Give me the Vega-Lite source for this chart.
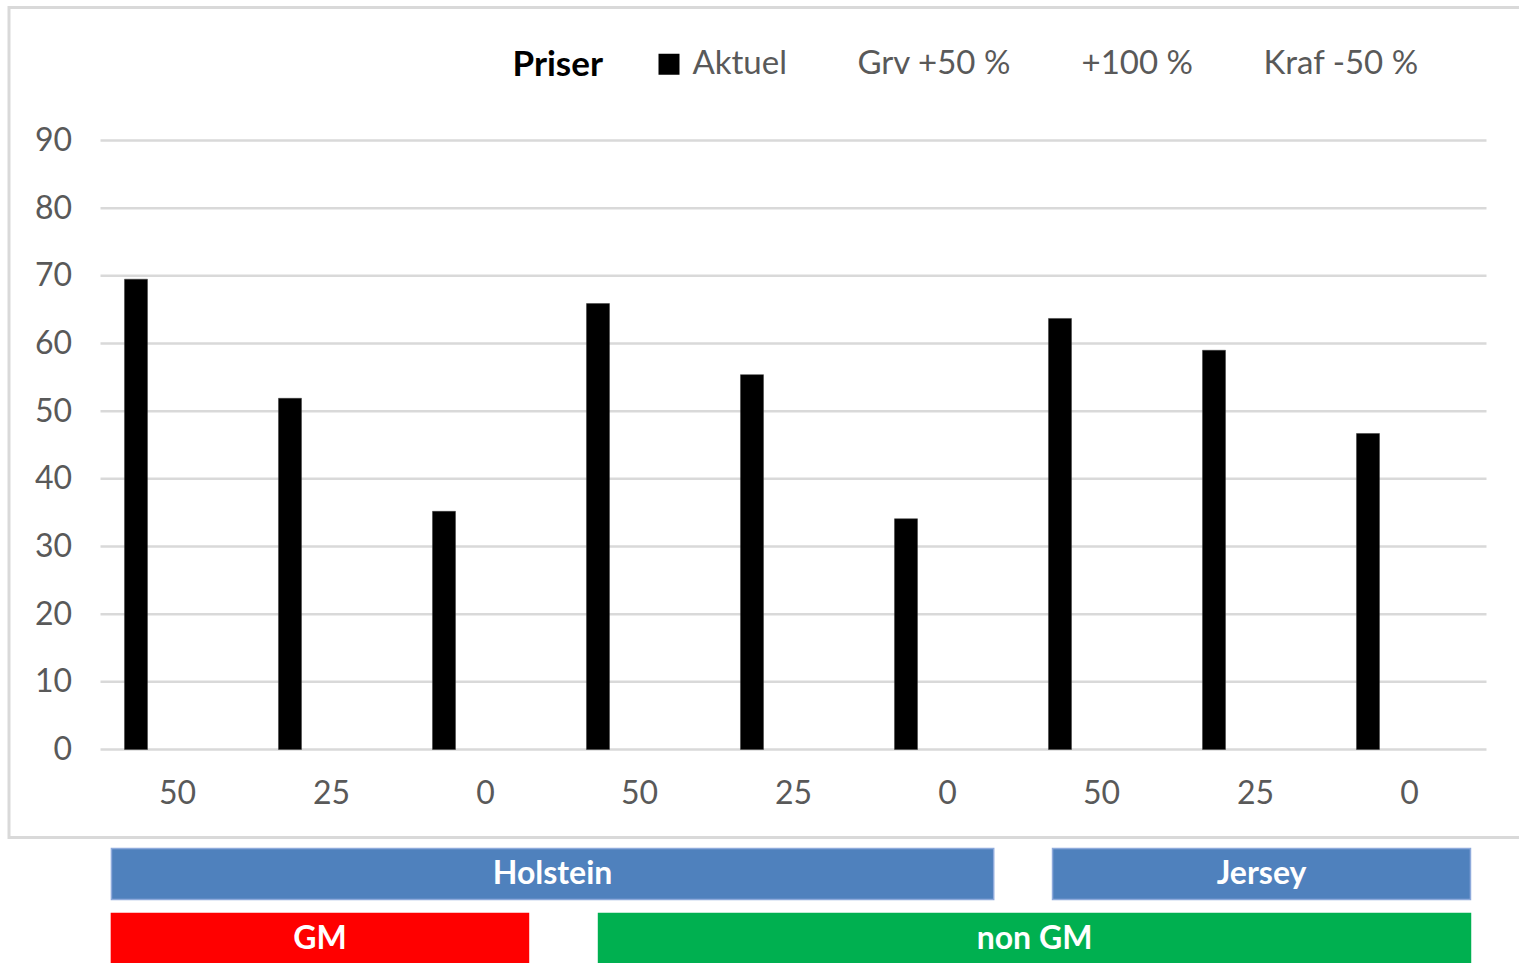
{
  "$schema": "https://vega.github.io/schema/vega-lite/v6.json",
  "padding": {"left": 7, "top": 5.5, "right": -4, "bottom": 0},
  "background": "white",
  "spacing": 8,
  "config": {
    "font": "Lato",
    "view": {"stroke": null},
    "axis": {"labelFont": "Lato", "labelColor": "#595959"}
  },
  "resolve": {"scale": {"color": "independent", "stroke": "independent"}, "legend": {"color": "independent"}},
  "datasets": {
    "prices": [
      {"race": "Holstein", "type": "GM", "level": "50", "series": "Aktuel", "value": 69.5},
      {"race": "Holstein", "type": "GM", "level": "25", "series": "Aktuel", "value": 51.9},
      {"race": "Holstein", "type": "GM", "level": "0", "series": "Aktuel", "value": 35.2},
      {"race": "Holstein", "type": "non GM", "level": "50", "series": "Aktuel", "value": 65.9},
      {"race": "Holstein", "type": "non GM", "level": "25", "series": "Aktuel", "value": 55.4},
      {"race": "Holstein", "type": "non GM", "level": "0", "series": "Aktuel", "value": 34.1},
      {"race": "Jersey", "type": "non GM", "level": "50", "series": "Aktuel", "value": 63.7},
      {"race": "Jersey", "type": "non GM", "level": "25", "series": "Aktuel", "value": 59.0},
      {"race": "Jersey", "type": "non GM", "level": "0", "series": "Aktuel", "value": 46.7}
    ],
    "grid": [
      {"v": 0}, {"v": 10}, {"v": 20}, {"v": 30}, {"v": 40},
      {"v": 50}, {"v": 60}, {"v": 70}, {"v": 80}, {"v": 90}
    ],
    "groups": [
      {"group": "Holstein", "row": "Race", "start": 0.071, "end": 5.8},
      {"group": "Jersey", "row": "Race", "start": 6.182, "end": 8.896},
      {"group": "GM", "row": "Type", "start": 0.071, "end": 2.779},
      {"group": "non GM", "row": "Type", "start": 3.234, "end": 8.896}
    ]
  },
  "vconcat": [
    {
      "width": 1513,
      "height": 830,
      "view": {"stroke": "#d9d9d9", "strokeWidth": 3},
      "layer": [
        {
          "data": {"name": "grid"},
          "mark": {"type": "rule", "color": "#d9d9d9", "strokeWidth": 2.5},
          "encoding": {
            "x": {"datum": 0, "type": "quantitative", "scale": {"domain": [-0.5942, 9.2305], "nice": false, "zero": false}, "axis": null},
            "x2": {"datum": 9},
            "y": {
              "field": "v", "type": "quantitative",
              "scale": {"domain": [-13.005, 109.655], "nice": false, "zero": false},
              "axis": {
                "title": null, "values": [0, 10, 20, 30, 40, 50, 60, 70, 80, 90],
                "grid": false, "domain": false, "ticks": false, "tickSize": 0,
                "labelFontSize": 32, "labelPadding": 0, "offset": -62.5
              }
            }
          }
        },
        {
          "data": {"name": "prices"},
          "transform": [
            {"calculate": "datum.race + ' ' + datum.type + '|' + datum.level", "as": "key"}
          ],
          "mark": {"type": "bar", "color": "#000000", "stroke": "#3a3a3a", "strokeWidth": 0.5},
          "encoding": {
            "x": {
              "field": "key", "type": "nominal", "sort": null,
              "scale": {"paddingInner": 0, "paddingOuter": 0.4123, "align": 0.7205},
              "axis": {
                "title": null, "domain": false, "ticks": false, "tickSize": 0,
                "labelAngle": 0, "labelFontSize": 32, "labelPadding": 29, "offset": -88,
                "labelExpr": "split(datum.label, '|')[1]"
              }
            },
            "xOffset": {
              "field": "series", "type": "nominal",
              "scale": {"domain": ["Aktuel", "Grv +50 %", "+100 %", "Kraf -50 %"], "paddingInner": 0.169, "paddingOuter": 0.867}
            },
            "y": {
              "field": "value", "type": "quantitative",
              "axis": {
                "title": null, "values": [0, 10, 20, 30, 40, 50, 60, 70, 80, 90],
                "grid": false, "domain": false, "ticks": false, "tickSize": 0,
                "labelFontSize": 32, "labelPadding": 0, "offset": -62.5
              }
            },
            "y2": {"datum": 0},
            "color": {
              "field": "series", "type": "nominal",
              "scale": {"domain": ["Aktuel", "Grv +50 %", "+100 %", "Kraf -50 %"], "range": ["#000000", "transparent", "transparent", "transparent"]},
              "legend": {
                "title": "Priser", "orient": "none", "legendX": 503.5, "legendY": 40,
                "direction": "horizontal", "titleOrient": "left",
                "titleFont": "Lato", "titleFontSize": 35, "titleFontWeight": "bold", "titleColor": "#000000",
                "titlePadding": 49, "titleAnchor": "middle", "titleBaseline": "middle",
                "labelFont": "Lato", "labelFontSize": 33, "labelColor": "#595959",
                "symbolType": "square", "symbolSize": 441, "symbolStrokeWidth": 0,
                "labelOffset": 7, "columnPadding": 30, "padding": 0
              }
            }
          }
        }
      ],
      "resolve": {"scale": {"x": "independent"}}
    },
    {
      "width": 1513,
      "height": 116,
      "data": {"name": "groups"},
      "encoding": {
        "y": {"field": "row", "type": "nominal", "sort": ["Race", "Type"], "scale": {"paddingInner": 0.215, "paddingOuter": 0}, "axis": null}
      },
      "layer": [
        {
          "mark": {"type": "bar", "strokeWidth": 1.5},
          "encoding": {
            "x": {"field": "start", "type": "quantitative", "scale": {"domain": [-0.5942, 9.2305], "nice": false, "zero": false}, "axis": null},
            "x2": {"field": "end"},
            "color": {
              "field": "group", "type": "nominal",
              "scale": {"domain": ["Holstein", "Jersey", "GM", "non GM"], "range": ["#4f81bd", "#4f81bd", "#ff0000", "#00b050"]},
              "legend": null
            },
            "stroke": {
              "field": "group", "type": "nominal",
              "scale": {"domain": ["Holstein", "Jersey", "GM", "non GM"], "range": ["#8eaadb", "#8eaadb", "#ff0000", "#00b050"]},
              "legend": null
            }
          }
        },
        {
          "transform": [{"calculate": "(datum.start + datum.end) / 2", "as": "mid"}],
          "mark": {"type": "text", "color": "white", "font": "Lato", "fontWeight": "bold", "fontSize": 32, "baseline": "middle", "align": "center"},
          "encoding": {
            "x": {"field": "mid", "type": "quantitative"},
            "text": {"field": "group"}
          }
        }
      ]
    }
  ]
}
